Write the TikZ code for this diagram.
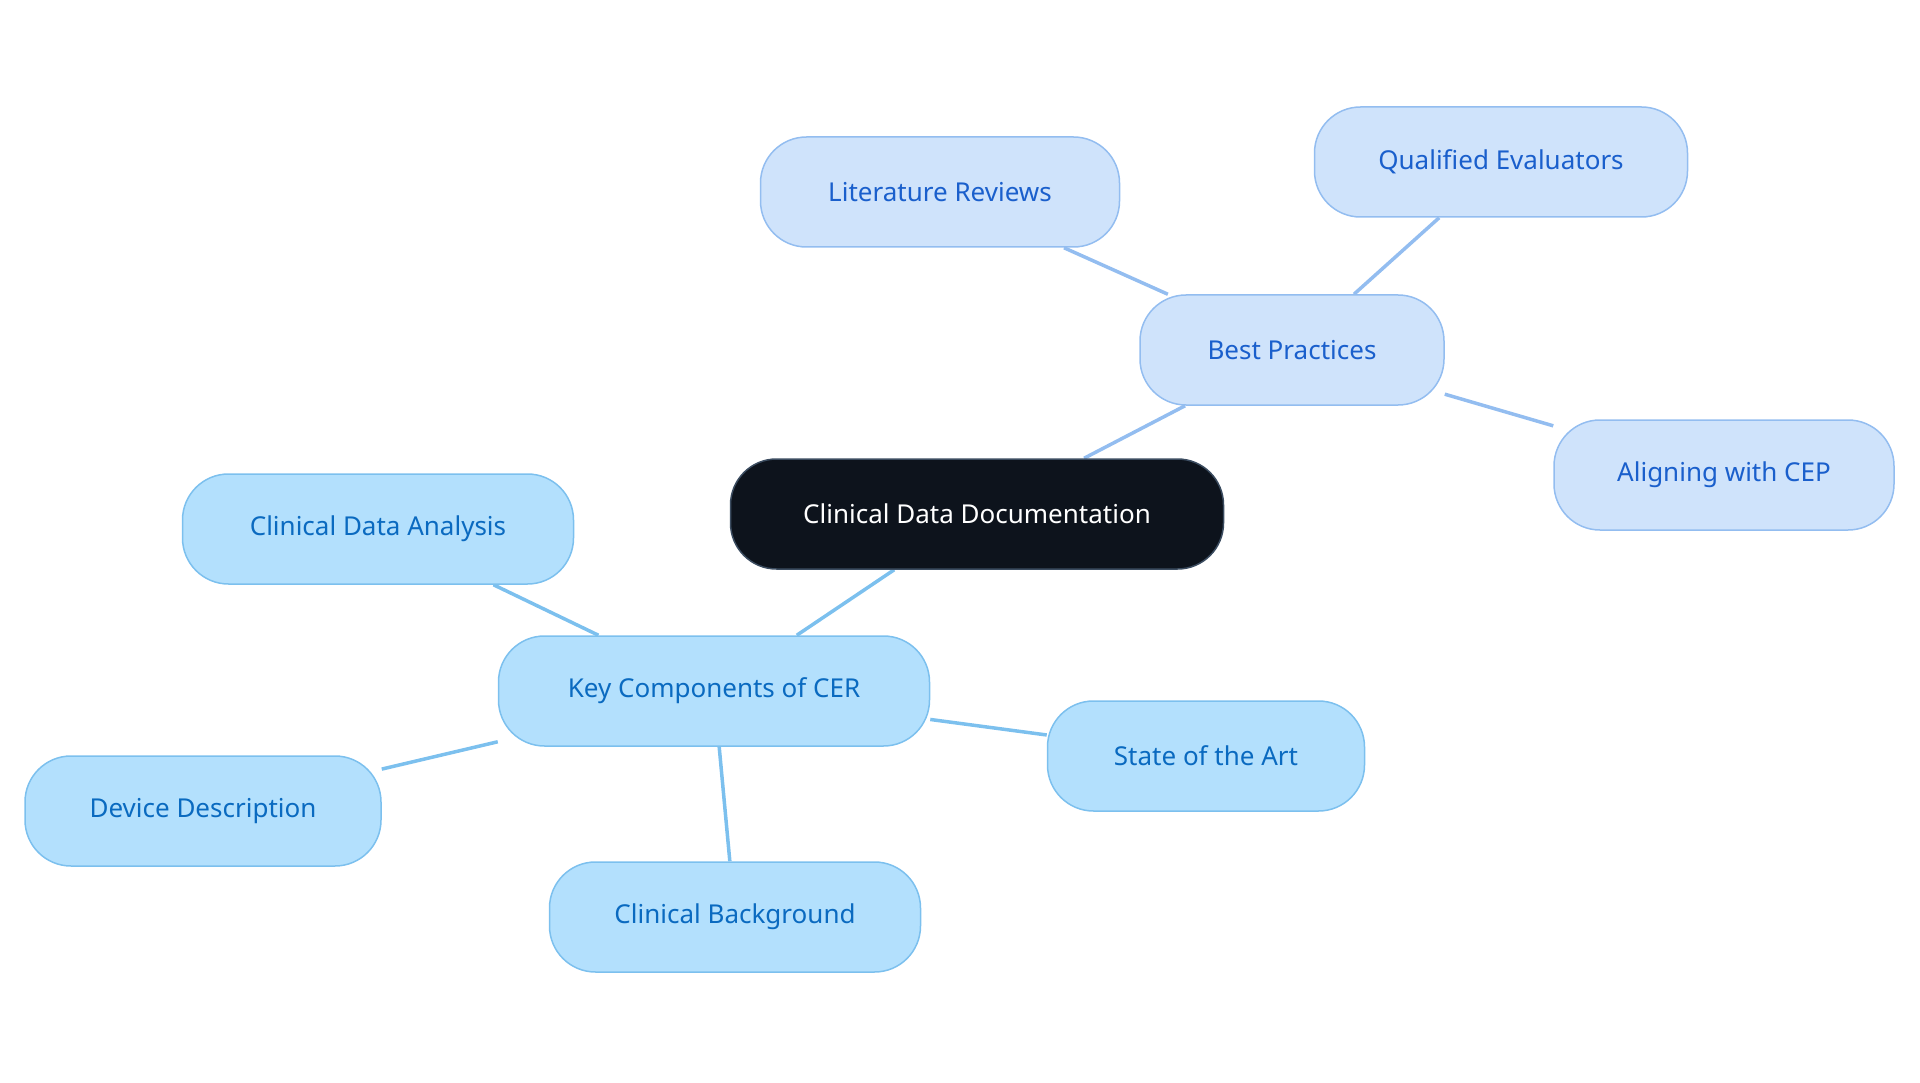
\documentclass[tikz,border=0pt]{standalone}
\usepackage{fontspec}
\setmainfont{Noto Sans}
\usetikzlibrary{backgrounds}
\definecolor{rootfill}{HTML}{0D131C}
\definecolor{bpfill}{HTML}{CFE3FB}
\definecolor{bpline}{HTML}{93BDF0}
\definecolor{bptext}{HTML}{1A5FCC}
\definecolor{kcfill}{HTML}{B3E0FD}
\definecolor{kcline}{HTML}{7CC0EE}
\definecolor{kctext}{HTML}{0A6AC0}
\begin{document}
\begin{tikzpicture}[x=1pt,y=-1pt,
  every node/.style={font=\fontsize{26}{30}\selectfont, rounded corners=46pt, minimum height=110pt, line width=1.5pt},
  rootbox/.style={fill=rootfill, draw=bpline!40!black, text=white},
  bpbox/.style={fill=bpfill, draw=bpline, text=bptext},
  kcbox/.style={fill=kcfill, draw=kcline, text=kctext},
  bpedge/.style={draw=bpline, line width=3.5pt},
  kcedge/.style={draw=kcline, line width=3.5pt}]
\useasboundingbox (0,0) rectangle (1920,1083);
\node[rootbox, minimum width=493pt] (root) at (977,514) {Clinical Data Documentation};
\node[bpbox, minimum width=304pt] (best) at (1292,350) {Best Practices};
\node[bpbox, minimum width=359pt] (lit) at (940,192) {Literature Reviews};
\node[bpbox, minimum width=373pt] (qual) at (1501,162) {Qualified Evaluators};
\node[bpbox, minimum width=340pt] (align) at (1724,475) {Aligning with CEP};
\node[kcbox, minimum width=431pt] (key) at (714,691) {Key Components of CER};
\node[kcbox, minimum width=391pt] (cda) at (378,529) {Clinical Data Analysis};
\node[kcbox, minimum width=356pt] (dev) at (203,811) {Device Description};
\node[kcbox, minimum width=371pt] (bg) at (735,917) {Clinical Background};
\node[kcbox, minimum width=317pt] (sota) at (1206,756) {State of the Art};
\begin{scope}[on background layer]
\draw[bpedge] (root) -- (best);
\draw[bpedge] (best) -- (lit);
\draw[bpedge] (best) -- (qual);
\draw[bpedge] (best) -- (align);
\draw[kcedge] (root) -- (key);
\draw[kcedge] (key) -- (cda);
\draw[kcedge] (key) -- (dev);
\draw[kcedge] (key) -- (bg);
\draw[kcedge] (key) -- (sota);
\end{scope}
\end{tikzpicture}
\end{document}
